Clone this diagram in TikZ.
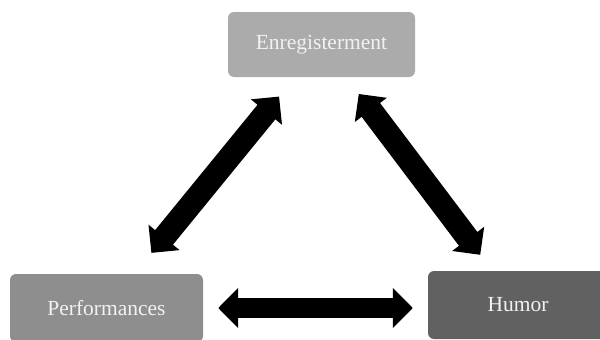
\documentclass[tikz,border=0pt]{standalone}
\usepackage{fontspec}
\setmainfont{Liberation Serif}
\usetikzlibrary{arrows.meta,positioning}

\definecolor{enrfill}{HTML}{ABABAB}
\definecolor{perffill}{HTML}{8E8E8E}
\definecolor{humfill}{HTML}{616161}
\definecolor{labeltxt}{HTML}{F2F2F2}

\begin{document}
\begin{tikzpicture}[x=1pt, y=-1pt,
  box/.style={rectangle, rounded corners=6pt, inner sep=0pt, text=labeltxt,
              font=\fontsize{21.5}{25}\selectfont},
  link/.style={{Triangle[width=39pt,length=20pt]}-{Triangle[width=39pt,length=20pt]},
               line width=20pt},
  diaglink/.style={link, line width=23pt},
]
\useasboundingbox (0,0) rectangle (600,340);

\node[box, fill=enrfill, minimum width=187pt, minimum height=65pt] (enreg) at (321.5,44.5) {Enregisterment};
\node[box, fill=perffill, minimum width=193pt, minimum height=68pt] (perf) at (106.5,308) {Performances};
\node[box, fill=humfill, minimum width=180pt, minimum height=68pt] (humor) at (518,305) {Humor};

\draw[diaglink, shorten <=27pt, shorten >=25pt] (perf) -- (enreg);
\draw[diaglink, shorten <=21pt, shorten >=20pt] (enreg) -- (humor);
\draw[link, shorten <=15pt, shorten >=15pt] (perf.east) -- (perf.east -| humor.west);

\end{tikzpicture}
\end{document}
